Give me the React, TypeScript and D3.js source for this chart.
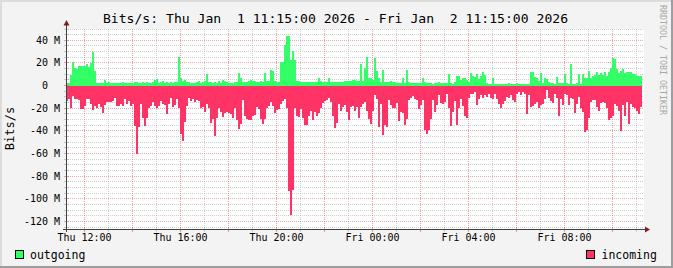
import React from 'react';
import * as d3 from 'd3';

const W = 673;
const H = 268;
const START = new Date(2026, 0, 1, 11, 15);
const END = new Date(2026, 0, 2, 11, 15);
const STEP_MIN = 5;

const titleText = 'Bits/s: Thu Jan  1 11:15:00 2026 - Fri Jan  2 11:15:00 2026';
const yAxisTitle = 'Bits/s';
const watermark = 'RRDTOOL / TOBI OETIKER';
const seriesNames = ['outgoing', 'incoming'];
const seriesColors = ['#33FF66', '#FF3366'];

// Mbit/s, one value per 5 minutes
const outgoingMbps = [
  2.6, 2.6, 9.4, 21, 16, 14.7, 17.6, 17, 17.6, 17,
  18.8, 16.5, 20, 30, 13, 2.4, 2, 2, 2.6, 5,
  2, 3.2, 2.6, 2.4, 2.4, 2, 2.6, 2.4, 2.9, 2.4,
  2.4, 2, 2.4, 2.6, 3.5, 3.5, 2.6, 2.4, 2.9, 2.6,
  3.5, 2.4, 2.4, 3.5, 5, 5.9, 2.6, 2.9, 4.1, 2.6,
  3.5, 2.6, 2.9, 2.6, 3.5, 3.5, 25.6, 7, 4.1, 5,
  2.9, 3.5, 2.6, 2.6, 2.6, 3.5, 4.1, 2.6, 2.9, 4.1,
  10, 3.5, 2.9, 2.4, 2.9, 2.4, 4.1, 2.6, 5, 4.1,
  2.9, 2.4, 2.4, 2.6, 2.9, 3.5, 11.5, 7, 2.9, 3.5,
  2.9, 4.1, 4.7, 4.1, 4.4, 3.5, 2.9, 4.1, 3.5, 10.9,
  4.1, 4.1, 13.5, 12.9, 4.1, 2.9, 3.5, 21, 21, 36,
  43.5, 43.5, 22.4, 31, 22.4, 4.1, 4.1, 2.9, 2.9, 2.9,
  2.9, 2.9, 2.9, 3.5, 3.5, 2.9, 7, 4.1, 2.9, 2.9,
  2.9, 7, 2.9, 2.9, 2.9, 2.9, 2.9, 2.9, 3.5, 4.1,
  4.4, 4.4, 4.4, 4.7,
  5, 4.1, 4.1, 18.8, 4.1, 15.3, 25.6, 7, 6.5, 5,
  24, 13, 7, 3.5, 13.5, 3.5, 2.9, 2.9, 4.1, 2.9,
  2.9, 2, 2, 2, 7, 2, 14, 2.9, 2.6, 2.6,
  2, 2, 2, 2, 7, 2.9, 2, 2, 2, 1.8,
  2.4, 2, 2.9, 2.4, 2.4, 2.4, 2, 10, 2, 1.8,
  2.9, 8.5, 8.8, 5, 6.5, 7, 5, 2.9, 11.5, 8.5,
  7.6, 10, 5.9, 8.8, 12.4, 9.4, 2, 1.8, 1.8, 6.5,
  1.8, 1.5, 1.5, 1.5, 1.5, 1.5, 1.5, 2, 1.8, 1.5,
  1.8, 2.6, 1.8, 1.8, 1.8, 1.5, 1.8, 1.8, 12.4, 11.8,
  7.6, 6.5, 4.1, 10.9, 2, 6.5, 5.6, 3.5, 2, 2,
  1.8, 7.9, 2, 2, 2, 10.3, 2, 1.8, 18.8, 1.8,
  1.8, 2, 10, 1.8, 10, 7, 7, 13, 7, 8.8,
  9.4, 12.4, 9.4, 10.9, 9.4, 12.4, 8.8, 11.8, 15.9, 24.7,
  23.5, 14.7, 11.5, 12.9, 14.7, 10.9, 12.4, 12.4, 11.8, 10,
  10, 8.8, 8.5, 8.5,
];

// Mbit/s magnitude, drawn below zero
const incomingMbps = [
  13.5, 11.8, 20, 8.8, 11.8, 11.8, 13, 20.6, 20.6, 17.6,
  11.8, 11.8, 16.5, 21.5, 17.6, 19.4, 16.5, 18.5, 24, 17,
  14.7, 14.7, 14.7, 13.5, 10.6, 18, 18, 15.9, 17.6, 11.8,
  16.5, 13.5, 17.6, 15.9, 36, 60, 36.5, 16.5, 28.8, 35.3,
  28.2, 20, 17.6, 14.7, 18.2, 20, 17.6, 13.5, 15.9, 17,
  25.3, 15.9, 10.6, 18.8, 17, 11.8, 20, 43, 48.8, 32.4,
  18.2, 10.6, 13.5, 11.8, 14.1, 12.4, 13.5, 20, 18.8, 23.5,
  16.5, 20, 33.2, 29.4, 44.4, 28.8, 19.4, 23, 27.4, 24.4,
  23, 24.4, 25.3, 28.2, 20, 30.3, 38.2, 34.1, 12.6, 26.5,
  29.4, 30.6, 30, 26.5, 25.9, 18.8, 20.6, 29.4, 34.1, 29.4,
  20, 17.6, 14.7, 17.6, 24.4, 21.5, 20.6, 16.5, 13.5, 11.8,
  20, 93, 114, 92, 20, 26.5, 27.6, 20.6, 28.2, 34.7,
  34.7, 26.5, 22.4, 30.3, 23, 26.5, 24.4, 20, 15.3, 13.5,
  12.4, 10.6, 14.7, 26.5, 37, 33.2, 15.9, 22.4, 18.8, 17,
  23.5, 30.3, 18.8, 18.2,
  22.4, 18.8, 28.2, 18.8, 16.5, 14.1, 22.4, 29.4, 33.8, 22.4,
  8.2, 11.8, 36.5, 16.5, 43.5, 34.7, 36.8, 12.6, 17, 20,
  20, 15.6, 31.2, 23, 24.4, 34.7, 29.4, 12.6, 10.6, 8.8,
  11.8, 12.4, 20.6, 17, 12.9, 39.1, 42.4, 39.1, 29.4, 12.6,
  23, 17, 8.2, 15.6, 16.5, 14.7, 7.6, 20, 35.3, 23,
  13.5, 34.7, 20, 11.8, 17.6, 26.5, 28.8, 11.2, 7.6, 7.1,
  5.9, 17, 11.8, 8.2, 10.6, 8.2, 9.7, 7.6, 11.2, 11.8,
  7.6, 11.8, 16.5, 20, 16.5, 13.5, 9.7, 11.2, 8.2, 12.6,
  14.1, 7.6, 5.3, 8.2, 5.9, 7.6, 24.7, 8.2, 18.5, 17.6,
  16.5, 14.1, 20, 17, 16.5, 11.8, 4.1, 10.6, 13.5, 15.6,
  7.1, 10.6, 26.5, 11.8, 17, 7.1, 8.2, 17, 11.2, 11.8,
  24.4, 16.5, 9.7, 20, 23, 40.6, 39.1, 28.2, 14.1, 12.6,
  12.6, 18.8, 22.4, 15.6, 14.7, 15.6, 20, 30.3, 28.2, 26.5,
  16.5, 17.6, 22.4, 40, 17, 26.5, 14.7, 34.1, 16.5, 18.8,
  19.4, 22.4, 25.3, 18.5,
];

const yMajorTicksM = [-120, -100, -80, -60, -40, -20, 0, 20, 40];
const yDomainM = [-126.5, 50];

const PLOT = { left: 66, right: 642, top: 29, bottom: 229 };
const MONO = "'DejaVu Sans Mono', monospace";

export default function App() {
  const x = d3.scaleTime().domain([START, END]).range([PLOT.left, PLOT.right]);
  const y = d3.scaleLinear().domain([yDomainM[0] * 1e6, yDomainM[1] * 1e6]).range([PLOT.bottom, PLOT.top]);

  const toPoints = (arr: number[], sign: number) => {
    const pts = arr.map((v, i) => ({ t: d3.timeMinute.offset(START, i * STEP_MIN), v: sign * v * 1e6 }));
    pts.push({ t: d3.timeMinute.offset(START, arr.length * STEP_MIN), v: sign * arr[arr.length - 1] * 1e6 });
    return pts;
  };
  const area = d3
    .area<{ t: Date; v: number }>()
    .x((d) => x(d.t))
    .y0(() => y(0))
    .y1((d) => y(d.v))
    .curve(d3.curveStepAfter);

  const outPath = area(toPoints(outgoingMbps, 1)) || '';
  const inPath = area(toPoints(incomingMbps, -1)) || '';

  const px = (v: number) => Math.floor(v) + 0.5;
  const hours = d3.timeHour.every(1)!.range(START, END);
  const isMajor = (t: Date) => t.getHours() % 2 === 0;
  const labelHours = hours.filter((t) => t.getHours() % 4 === 0);
  const fmt = d3.timeFormat('%a %H:%M');

  const minorY = d3.range(-125, 51, 5).filter((v) => v % 20 !== 0);
  const gridRight = 644;

  const minorColor = 'rgba(143,143,143,0.42)';
  const majorColor = 'rgba(222,80,80,0.5)';
  const axisColor = '#404040';
  const arrowColor = '#7f1f1f';

  const yLabel = (v: number) => (v === 0 ? '0' : `${v} M`);

  return (
    <svg
      width={W}
      height={H}
      style={{ position: 'absolute', left: 0, top: 0, display: 'block' }}
      fontFamily={MONO}
    >
      <rect x={0} y={0} width={W} height={H} fill="#f3f3f3" />
      {/* frame shading */}
      <rect x={0} y={0} width={W} height={2} fill="#dcdcdc" />
      <rect x={0} y={0} width={2} height={H} fill="#dcdcdc" />
      <rect x={0} y={H - 2} width={W} height={2} fill="#9e9e9e" />
      <rect x={W - 2} y={0} width={2} height={H} fill="#9e9e9e" />

      <rect x={PLOT.left} y={PLOT.top} width={gridRight - PLOT.left} height={PLOT.bottom - PLOT.top} fill="#ffffff" />

      {/* grid */}
      <g shapeRendering="crispEdges" strokeWidth={1} strokeDasharray="1,1">
        {minorY.map((v) => (
          <line key={'my' + v} x1={PLOT.left} x2={gridRight} y1={px(y(v * 1e6))} y2={px(y(v * 1e6))} stroke={minorColor} />
        ))}
        {hours.filter((t) => !isMajor(t)).map((t) => (
          <line key={'mx' + +t} x1={px(x(t))} x2={px(x(t))} y1={PLOT.top} y2={PLOT.bottom} stroke={minorColor} />
        ))}
        {yMajorTicksM.map((v) => (
          <line key={'My' + v} x1={PLOT.left} x2={gridRight} y1={px(y(v * 1e6))} y2={px(y(v * 1e6))} stroke={majorColor} />
        ))}
        {hours.filter(isMajor).map((t) => (
          <line key={'Mx' + +t} x1={px(x(t))} x2={px(x(t))} y1={PLOT.top} y2={PLOT.bottom} stroke={majorColor} />
        ))}
      </g>

      {/* data */}
      <g shapeRendering="crispEdges">
        <path d={outPath} fill={seriesColors[0]} />
        <path d={inPath} fill={seriesColors[1]} />
      </g>

      {/* axis ticks */}
      <g shapeRendering="crispEdges">
        {hours.map((t) => (
          <line key={'tx' + +t} x1={px(x(t))} x2={px(x(t))} y1={227} y2={232} stroke={isMajor(t) ? majorColor : minorColor} />
        ))}
        {minorY.map((v) => (
          <line key={'ty' + v} x1={64} x2={69} y1={px(y(v * 1e6))} y2={px(y(v * 1e6))} stroke={minorColor} />
        ))}
        {yMajorTicksM.map((v) => (
          <line key={'tY' + v} x1={64} x2={69} y1={px(y(v * 1e6))} y2={px(y(v * 1e6))} stroke={majorColor} />
        ))}
        <line x1={63} x2={646} y1={229.5} y2={229.5} stroke={axisColor} />
        <line x1={66.5} x2={66.5} y1={25} y2={232} stroke={axisColor} />
      </g>
      <polygon points="645,226.5 650,229.5 645,232.5" fill={arrowColor} />
      <polygon points="63.5,25.5 66.5,20 69.5,25.5" fill={arrowColor} />

      {/* y labels */}
      {yMajorTicksM.map((v) => (
        <text key={'yl' + v} x={v === 0 ? 48 : 60} y={px(y(v * 1e6)) + 3.5} fontSize={10} textAnchor="end" fill="#000">
          {yLabel(v)}
        </text>
      ))}
      {/* x labels */}
      {labelHours.map((t) => (
        <text key={'xl' + +t} x={px(x(t))} y={241} fontSize={10} textAnchor="middle" fill="#000">
          {fmt(t)}
        </text>
      ))}

      {/* title */}
      <text x={335.5} y={23} fontSize={13.1} textAnchor="middle" fill="#000" style={{ whiteSpace: 'pre' }}>
        {titleText}
      </text>

      {/* y axis title */}
      <text transform="translate(14,128.5) rotate(-90)" fontSize={12} textAnchor="middle" fill="#000">
        {yAxisTitle}
      </text>

      {/* watermark */}
      <text transform="translate(660,5) rotate(90)" fontSize={8.3} fill="#a8a8a8">
        {watermark}
      </text>

      {/* legend */}
      <rect x={15.5} y={250.5} width={8} height={8} fill={seriesColors[0]} stroke="#000" />
      <text x={30} y={258.5} fontSize={11.5} fill="#000">{seriesNames[0]}</text>
      <rect x={586.5} y={250.5} width={8} height={8} fill={seriesColors[1]} stroke="#000" />
      <text x={601.5} y={258.5} fontSize={11.5} fill="#000">{seriesNames[1]}</text>
    </svg>
  );
}
